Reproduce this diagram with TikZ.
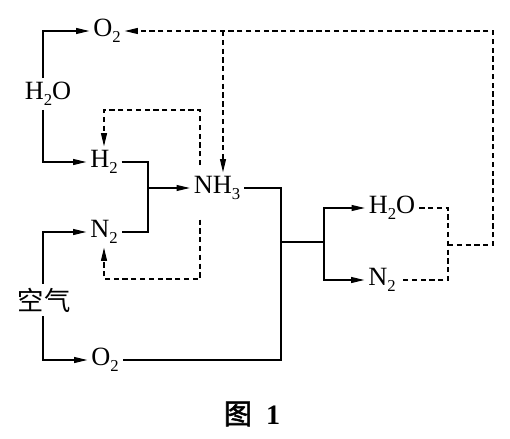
\documentclass[tikz,border=0pt]{standalone}
\usepackage{fontspec}
\setmainfont{Liberation Serif}
\newfontfamily\cjk{Noto Sans CJK SC}
\newfontfamily\cjkb[FakeBold=2]{Noto Sans CJK SC}
\usetikzlibrary{arrows.meta}

\newcommand\lowsub[1]{\raisebox{-0.5ex}{\fontsize{9.5}{10}\selectfont#1}}

\tikzset{
  chem/.style={inner sep=2pt, font=\fontsize{15}{17}\selectfont},
  arr/.style={-{Triangle[length=7.5pt,width=3.4pt]}},
  dsh/.style={dash pattern=on 3pt off 2pt},
}

\begin{document}
\begin{tikzpicture}[x=0.02cm,y=-0.02cm,line width=0.6pt]
\useasboundingbox (0,0) rectangle (510,439);

%%%%% species
\node[chem] (o2t) at (107,31) {O\lowsub{2}};
\node[chem] (h2ol) at (48,94) {H\lowsub{2}O};
\node[chem] (h2) at (104,162) {H\lowsub{2}};
\node[chem] (n2l) at (104,232) {N\lowsub{2}};
\node[chem, font=\cjk\fontsize{15}{17}\selectfont] (air) at (44,300) {空气};
\node[chem] (o2b) at (105,360) {O\lowsub{2}};
\node[chem] (nh3) at (217,188) {NH\lowsub{3}};
\node[chem] (h2or) at (392,208) {H\lowsub{2}O};
\node[chem] (n2r) at (382,280) {N\lowsub{2}};
\node (cap) at (252,414) {\fontsize{16}{18}\selectfont{\cjkb 图}\ \ \textbf{1}};

\coordinate (xl) at (43,0);
\coordinate (jn) at (148,188);
\coordinate (jo) at (281,242);
\coordinate (js) at (324,242);
\coordinate (jd) at (448,245);
\coordinate (cr) at (493,245);
\coordinate (jt) at (223,0);
\coordinate (lh) at (200,110);
\coordinate (ln) at (200,279);

%%%%% solid lines
\draw[arr] (h2ol.north -| xl) |- (o2t.west);
\draw[arr] (h2ol.south -| xl) |- (h2.west);
\draw[arr] (air.north -| xl) |- (n2l.west);
\draw[arr] (air.south -| xl) |- (o2b.west);

\draw (h2.east) -| (jn) |- (n2l.east);
\draw[arr] (jn) -- (nh3.west);

\draw (nh3.east) -| (jo) |- (o2b.east);
\draw (jo) -- (js);
\draw[arr] (js) |- (h2or.west);
\draw[arr] (js) |- (n2r.west);

%%%%% dashed lines
\draw[dsh] (h2or.east) -| (jd) |- (n2r.east);
\draw[dsh, arr] (jd) -- (cr) |- (o2t.east);
\draw[dsh, arr] (o2t.east -| jt) -- (nh3.north -| jt);

\draw[dsh, arr, shorten <=4pt] (nh3.north -| lh) |- (h2.north |- lh) -- (h2.north);
\draw[dsh, arr, shorten <=9pt] (nh3.south -| ln) |- (n2l.south |- ln) -- (n2l.south);

\end{tikzpicture}
\end{document}
